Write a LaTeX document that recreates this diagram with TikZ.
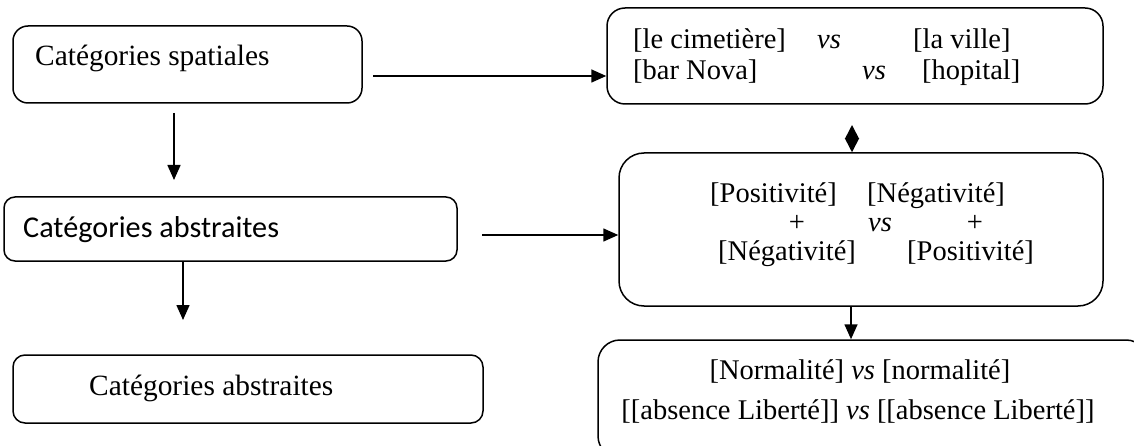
\documentclass[tikz,border=0pt]{standalone}
\usepackage{fontspec}
\setmainfont{Liberation Serif}[
  ItalicFont=Liberation Serif Italic,
  BoldFont=Liberation Serif Bold]
\newfontfamily\carlitofont{Carlito}
\usetikzlibrary{arrows.meta}

\tikzset{
  box/.style={draw, line width=1.5pt, inner sep=0pt},
  txt/.style={inner sep=0pt, font=\fontsize{28.5}{34}\selectfont},
  ltxt/.style={inner sep=0pt, font=\fontsize{29.4}{35}\selectfont},
  arr/.style={line width=1.6pt, -{Triangle[length=15pt,width=13pt]}},
  dbl/.style={line width=1.6pt, {Triangle[length=14pt,width=14pt]}-{Triangle[length=14pt,width=14pt]}}
}

\begin{document}
\begin{tikzpicture}[x=1pt,y=-1pt]
\clip (0,0) rectangle (1134,446);

% left column
\node[box, rounded corners=15pt, minimum width=349pt, minimum height=77pt] (A) at (187.5,64.5) {};
\node[ltxt, anchor=base west] (tA) at (35,66) {Catégories spatiales};

\node[box, rounded corners=11pt, minimum width=453pt, minimum height=64pt] (B) at (230.5,229) {};
\node[ltxt, anchor=base west, font=\carlitofont\fontsize{30.2}{35}\selectfont] (tB) at (23,237) {Catégories abstraites};

\node[box, rounded corners=12pt, minimum width=470pt, minimum height=68pt] (C) at (248,389) {};
\node[ltxt, anchor=base west] (tC) at (89,395) {Catégories abstraites};

% right column
\node[box, rounded corners=18pt, minimum width=496pt, minimum height=96pt] (D) at (855,56) {};
\node[txt, anchor=base west] (d1) at (633,49) {[le cimetière]};
\node[txt, anchor=base west] (d2) at (817,49) {\textit{vs}};
\node[txt, anchor=base west] (d3) at (913,49) {[la ville]};
\node[txt, anchor=base west] (d4) at (633,80) {[bar Nova]};
\node[txt, anchor=base west] (d5) at (862,80) {\textit{vs}};
\node[txt, anchor=base west] (d6) at (922,80) {[hopital]};

\node[box, rounded corners=25pt, minimum width=484pt, minimum height=153pt] (E) at (861,229.5) {};
\node[txt, anchor=base west] (e1) at (710,203) {[Positivité]};
\node[txt, anchor=base west] (e2) at (867,203) {[Négativité]};
\node[txt, anchor=base] (e3) at (797,232) {+};
\node[txt, anchor=base] (e4) at (880,232) {\textit{vs}};
\node[txt, anchor=base] (e5) at (975,232) {+};
\node[txt, anchor=base west] (e6) at (718,261) {[Négativité]};
\node[txt, anchor=base west] (e7) at (907,261) {[Positivité]};

\node[box, rounded corners=22pt, minimum width=550pt, minimum height=118pt] (F) at (873,399) {};
\node[txt, anchor=base] (f1) at (860,379) {[Normalité] \textit{vs} [normalité]};
\node[txt, anchor=base] (f2) at (858,419) {[[absence Liberté]] \textit{vs} [[absence Liberté]]};

% connectors
\coordinate (pA) at (373,76);
\draw[arr] (pA) -- (pA -| D.west);
\coordinate (pB) at (482,235);
\draw[arr] (pB) -- (pB -| E.west);

\coordinate (qA1) at (174,113);
\coordinate (qA2) at (174,180);
\draw[arr] (qA1) -- (qA2);
\coordinate (qB) at (183,320);
\draw[arr] (qB |- B.south) -- (qB);

\coordinate (qD) at (852,125);
\draw[dbl] (qD) -- (qD |- E.north);
\coordinate (qE) at (851,306);
\draw[arr] (qE |- E.south) -- (qE |- F.north);
\end{tikzpicture}
\end{document}
